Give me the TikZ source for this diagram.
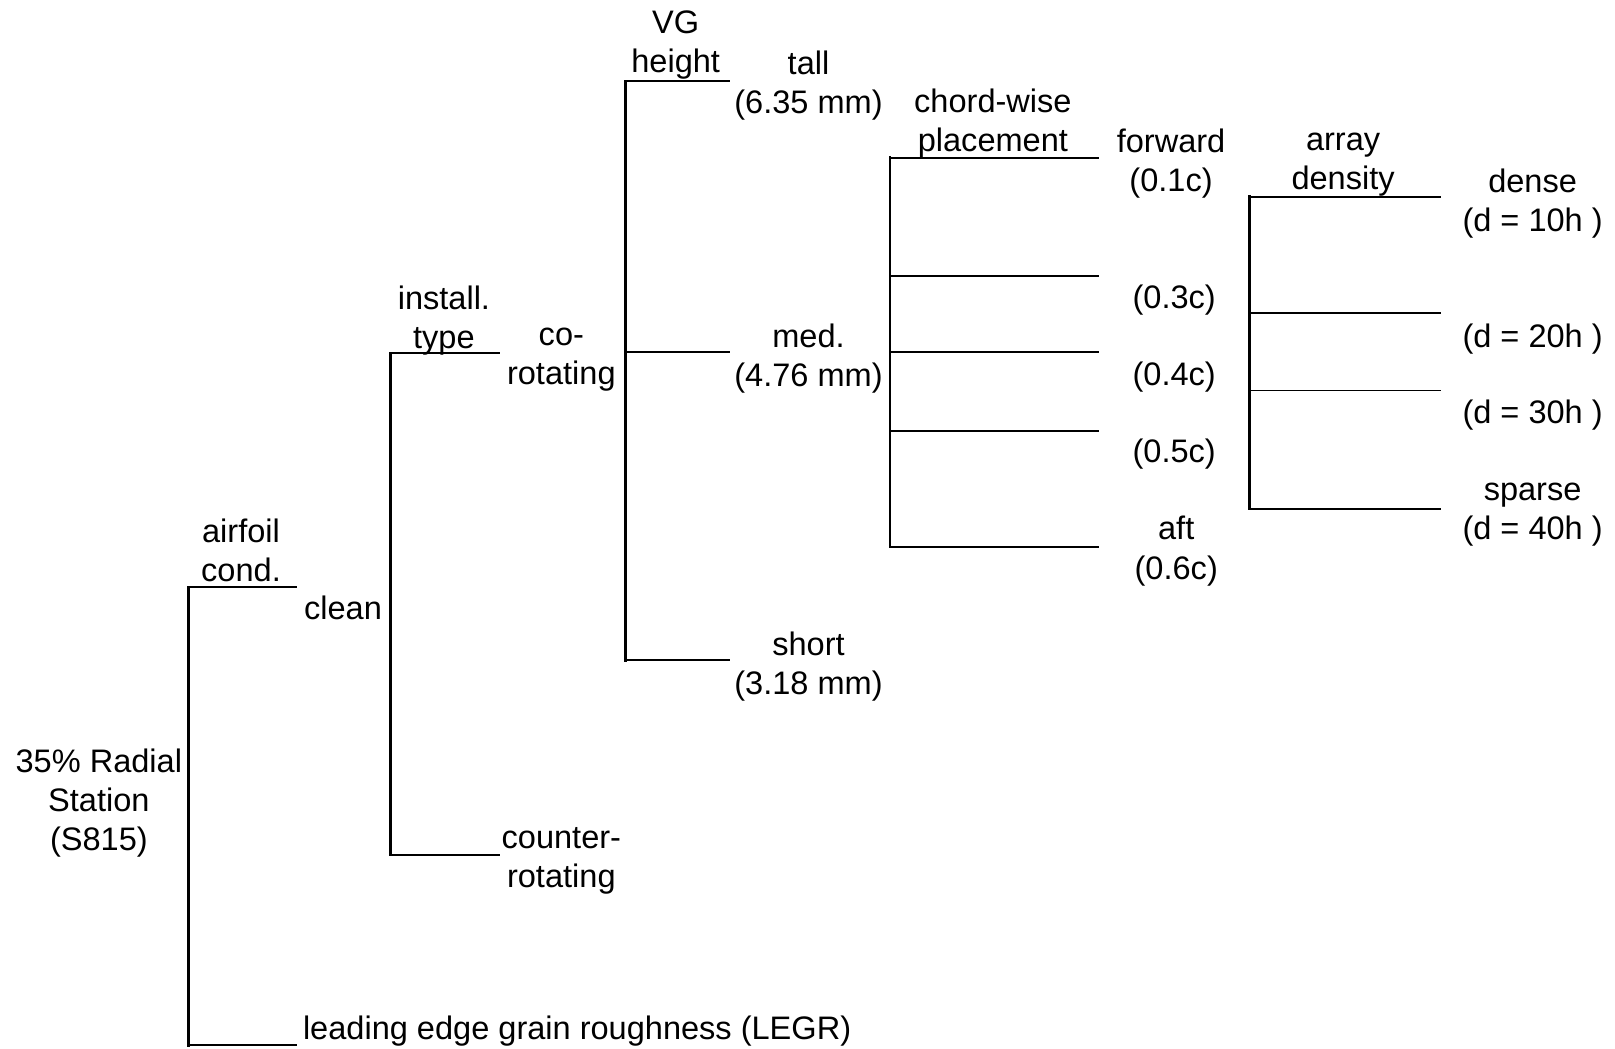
\documentclass[tikz,border=0pt]{standalone}
\usepackage{fontspec}
\setmainfont{Liberation Sans}
\begin{document}
\begin{tikzpicture}[x=1pt,y=-1pt,
  lbl/.style={font=\fontsize{31.6}{38}\selectfont, align=center, inner sep=0pt, anchor=center},
  lleft/.style={font=\fontsize{31.6}{38}\selectfont, inner sep=0pt, anchor=west},
  br/.style={line width=2pt, line cap=rect},
  stem/.style={line width=2.6pt, line cap=rect}]
\useasboundingbox (0,0) rectangle (1568,1018);

% ---------- labels ----------
\node[lbl] (root) at (96,780) {35\% Radial\\Station\\(S815)};
\node[lbl] (airfoil) at (234,534) {airfoil\\cond.};
\node[lbl] (clean) at (333,590) {clean};
\node[lleft] (legr) at (294,1001) {leading edge grain roughness (LEGR)};
\node[lbl] (install) at (431,311) {install.\\type};
\node[lbl] (corot) at (545,349) {co-\\rotating};
\node[lbl] (counter) at (545,836) {counter-\\rotating};
\node[lbl] (vgh) at (656,44) {VG\\height};
\node[lbl] (tall) at (785,83) {tall\\(6.35 mm)};
\node[lbl] (med) at (785,348) {med.\\(4.76 mm)};
\node[lbl] (short) at (785,647) {short\\(3.18 mm)};
\node[lbl] (chord) at (964,120) {chord-wise\\placement};
\node[lbl] (fwd) at (1137,159) {forward\\(0.1c)};
\node[lbl] (c3) at (1140,291) {(0.3c)};
\node[lbl] (c4) at (1140,366) {(0.4c)};
\node[lbl] (c5) at (1140,441) {(0.5c)};
\node[lbl] (aft) at (1142,535) {aft\\(0.6c)};
\node[lbl] (array) at (1304,160) {array\\density};
\node[lbl] (dense) at (1488,198) {dense\\(d = 10h )};
\node[lbl] (d20) at (1488,329) {(d = 20h )};
\node[lbl] (d30) at (1488,403) {(d = 30h )};
\node[lbl] (sparse) at (1488,500) {sparse\\(d = 40h )};

% ---------- bracket coordinates ----------
% level 1
\coordinate (L1t) at (183,570);
\coordinate (L1b) at (183,1015);
\coordinate (e1a) at (287,570);
\coordinate (e1b) at (287,1015);
% level 2
\coordinate (L2t) at (379,343);
\coordinate (L2b) at (379,830);
\coordinate (e2a) at (484,343);
\coordinate (e2b) at (484,830);
% level 3
\coordinate (L3t) at (607,79);
\coordinate (L3m) at (607,342);
\coordinate (L3b) at (607,641);
\coordinate (e3a) at (708,79);
\coordinate (e3b) at (708,342);
\coordinate (e3c) at (708,641);
% level 4
\coordinate (L4a) at (864,153);
\coordinate (L4b) at (864,268);
\coordinate (L4c) at (864,342);
\coordinate (L4d) at (864,418);
\coordinate (L4e) at (864,531);
\coordinate (e4a) at (1066,153);
\coordinate (e4b) at (1066,268);
\coordinate (e4c) at (1066,342);
\coordinate (e4d) at (1066,418);
\coordinate (e4e) at (1066,531);
% level 5
\coordinate (L5a) at (1213,191);
\coordinate (L5b) at (1213,304);
\coordinate (L5c) at (1213,379);
\coordinate (L5d) at (1213,494);
\coordinate (e5a) at (1398,191);
\coordinate (e5b) at (1398,304);
\coordinate (e5c) at (1398,379);
\coordinate (e5d) at (1398,494);

% ---------- connectors ----------
\draw[stem] (L1t) -- (L1b);
\draw[br] (L1t) -- (e1a);
\draw[br] (L1b) -- (e1b);

\draw[stem] (L2t) -- (L2b);
\draw[br] (L2t) -- (e2a);
\draw[br] (L2b) -- (e2b);

\draw[stem] (L3t) -- (L3b);
\draw[br] (L3t) -- (e3a);
\draw[br] (L3m) -- (e3b);
\draw[br] (L3b) -- (e3c);

\draw[stem] (L4a) -- (L4e);
\draw[br] (L4a) -- (e4a);
\draw[br, line width=1.5pt] (L4b) -- (e4b);
\draw[br] (L4c) -- (e4c);
\draw[br] (L4d) -- (e4d);
\draw[br] (L4e) -- (e4e);

\draw[stem] (L5a) -- (L5d);
\draw[br] (L5a) -- (e5a);
\draw[br, line width=1.6pt] (L5b) -- (e5b);
\draw[br, line width=1.6pt] (L5c) -- (e5c);
\draw[br] (L5d) -- (e5d);
\end{tikzpicture}
\end{document}
